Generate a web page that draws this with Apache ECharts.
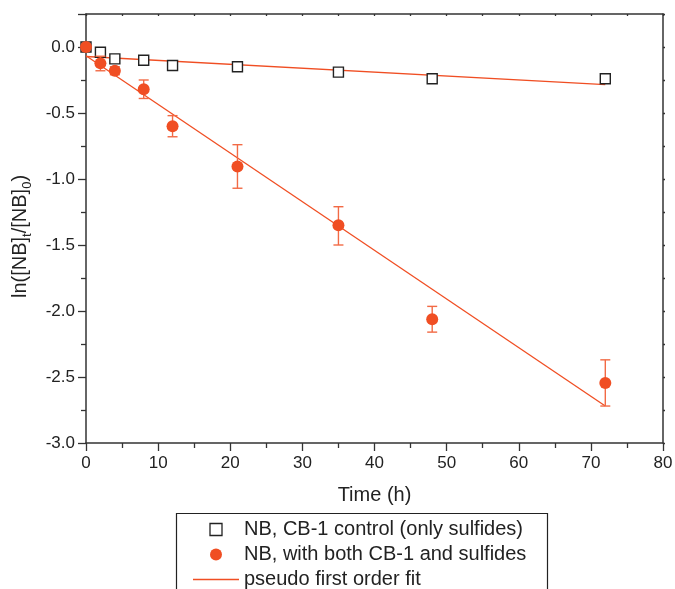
<!DOCTYPE html>
<html>
<head>
<meta charset="utf-8">
<script src="https://cdn.jsdelivr.net/npm/echarts@6/dist/echarts.min.js"></script>
<style>html,body{margin:0;padding:0;background:#fff}#c{width:675px;height:589px}</style>
</head>
<body>
<div id="c"></div>
<script>
var timeControl = [0, 2, 4, 8, 12, 21, 35, 48, 72];
var lnControl = [0.0, -0.04, -0.09, -0.10, -0.14, -0.15, -0.19, -0.24, -0.24];
var timeCB = [0, 2, 4, 8, 12, 21, 35, 48, 72];
var lnCB = [0.0, -0.124, -0.18, -0.32, -0.60, -0.905, -1.35, -2.063, -2.545];
var errLow = [0.0, -0.18, -0.21, -0.39, -0.68, -1.07, -1.50, -2.16, -2.72];
var errHigh = [0.0, -0.07, -0.15, -0.25, -0.52, -0.74, -1.21, -1.965, -2.37];
var fitControlX = [0, 72];
var fitControlY = [-0.072, -0.285];
var fitCBX = [0, 72];
var fitCBY = [-0.066, -2.72];
var xTicks = [0, 10, 20, 30, 40, 50, 60, 70, 80];
var yTicks = [-3.0, -2.5, -2.0, -1.5, -1.0, -0.5, 0.0];

var nameControl = 'NB, CB-1 control (only sulfides)';
var nameCB = 'NB, with both CB-1 and sulfides';
var nameFit = 'pseudo first order fit';

function zip(a, b) { return a.map(function (v, i) { return [v, b[i]]; }); }
var errData = timeCB.map(function (t, i) { return [t, errLow[i], errHigh[i]]; })
  .filter(function (d) { return d[1] !== d[2]; });

var orange = '#F04E23';
var axisColor = '#333';
var font = 'Liberation Sans, Arial, sans-serif';

var chart = echarts.init(document.getElementById('c'));
chart.setOption({
  animation: false,
  backgroundColor: '#fff',
  grid: { left: 86, right: 12, top: 14, bottom: 146, containLabel: false, outerBoundsMode: 'none' },
  graphic: [{
    type: 'rect', left: 174, top: 511, z: 100,
    shape: { width: 371, height: 100 },
    style: { fill: 'none', stroke: '#222', lineWidth: 1.2 }
  }],
  xAxis: [{
    type: 'value', min: xTicks[0], max: xTicks[xTicks.length - 1], interval: 10,
    name: 'Time (h)', nameLocation: 'middle', nameGap: 42,
    nameTextStyle: { fontSize: 20, color: '#222', fontFamily: font },
    axisLine: { onZero: false, lineStyle: { color: axisColor, width: 1.5 } },
    axisTick: { inside: false, length: 8, lineStyle: { color: axisColor, width: 1.3 } },
    minorTick: { show: true, splitNumber: 2, length: 5, lineStyle: { color: axisColor, width: 1.3 } },
    axisLabel: { fontSize: 17, color: '#222', fontFamily: font, margin: 12 },
    splitLine: { show: false }
  }, {
    type: 'value', position: 'top', min: 0, max: 80, interval: 10,
    axisLine: { onZero: false, lineStyle: { color: axisColor, width: 1.5 } },
    axisTick: { inside: true, length: 2, lineStyle: { color: axisColor, width: 1.3 } },
    minorTick: { show: true, splitNumber: 2, length: 2, lineStyle: { color: axisColor, width: 1.3 } },
    axisLabel: { show: false }, splitLine: { show: false }
  }],
  yAxis: [{
    type: 'value', min: yTicks[0], max: 0.25, interval: 0.5,
    name: 'ln([NB]{s|t}/[NB]{s|0})', nameLocation: 'middle', nameGap: 52,
    nameTextStyle: {
      fontSize: 20, color: '#222', fontFamily: font, padding: [0, 16, 0, 0],
      rich: { s: { fontSize: 13, fontFamily: font, color: '#222', verticalAlign: 'bottom', padding: [14, 0, 0, 0] } }
    },
    axisLine: { onZero: false, lineStyle: { color: axisColor, width: 1.5 } },
    axisTick: { inside: false, length: 8, lineStyle: { color: axisColor, width: 1.3 } },
    minorTick: { show: true, splitNumber: 2, length: 5, lineStyle: { color: axisColor, width: 1.3 } },
    axisLabel: {
      fontSize: 17, color: '#222', fontFamily: font, margin: 11,
      formatter: function (v) { return v > 0.01 ? '' : v.toFixed(1); }
    },
    splitLine: { show: false }
  }, {
    type: 'value', position: 'right', min: -3, max: 0.25, interval: 0.5,
    axisLine: { onZero: false, lineStyle: { color: axisColor, width: 1.5 } },
    axisTick: { inside: false, length: 2, lineStyle: { color: axisColor, width: 1.3 } },
    minorTick: { show: true, splitNumber: 2, length: 2, lineStyle: { color: axisColor, width: 1.3 } },
    axisLabel: { show: false }, splitLine: { show: false }
  }],
  legend: {
    orient: 'vertical', left: 175, top: 512, height: 80,
    padding: [7, 18, 0, 18],
    itemGap: 4, itemWidth: 46, itemHeight: 12,
    textStyle: { fontSize: 20, lineHeight: 21, color: '#222', fontFamily: font },
    data: [
      { name: nameControl, icon: 'path://M0,0H10V10H0Z', itemStyle: { color: '#fff', borderColor: '#222', borderWidth: 1.3 } },
      { name: nameCB, icon: 'circle', itemStyle: { color: orange } },
      { name: nameFit, icon: 'path://M0,0H46V1.3H0Z', itemStyle: { color: orange } }
    ]
  },
  series: [
    {
      name: nameFit, type: 'line', data: zip(fitControlX, fitControlY),
      symbol: 'none', lineStyle: { color: orange, width: 1.3 }, itemStyle: { color: orange }, z: 2
    },
    {
      name: nameFit, type: 'line', data: zip(fitCBX, fitCBY),
      symbol: 'none', lineStyle: { color: orange, width: 1.3 }, itemStyle: { color: orange }, z: 2
    },
    {
      name: nameControl, type: 'scatter', data: zip(timeControl, lnControl),
      symbol: 'rect', symbolSize: 10,
      itemStyle: { color: '#fff', borderColor: '#222', borderWidth: 1.4, opacity: 1 }, z: 3
    },
    {
      name: 'err', type: 'custom', data: errData, z: 4,
      renderItem: function (params, api) {
        var x = api.value(0);
        var lo = api.coord([x, api.value(1)]);
        var hi = api.coord([x, api.value(2)]);
        var w = 5;
        var st = { stroke: '#F26A45', lineWidth: 1.4 };
        return {
          type: 'group', children: [
            { type: 'line', shape: { x1: lo[0], y1: lo[1], x2: hi[0], y2: hi[1] }, style: st },
            { type: 'line', shape: { x1: lo[0] - w, y1: lo[1], x2: lo[0] + w, y2: lo[1] }, style: st },
            { type: 'line', shape: { x1: hi[0] - w, y1: hi[1], x2: hi[0] + w, y2: hi[1] }, style: st }
          ]
        };
      }
    },
    {
      name: nameCB, type: 'scatter', data: zip(timeCB, lnCB),
      symbol: 'circle', symbolSize: 12,
      itemStyle: { color: orange, opacity: 1 }, z: 5
    }
  ]
});
</script>
</body>
</html>
